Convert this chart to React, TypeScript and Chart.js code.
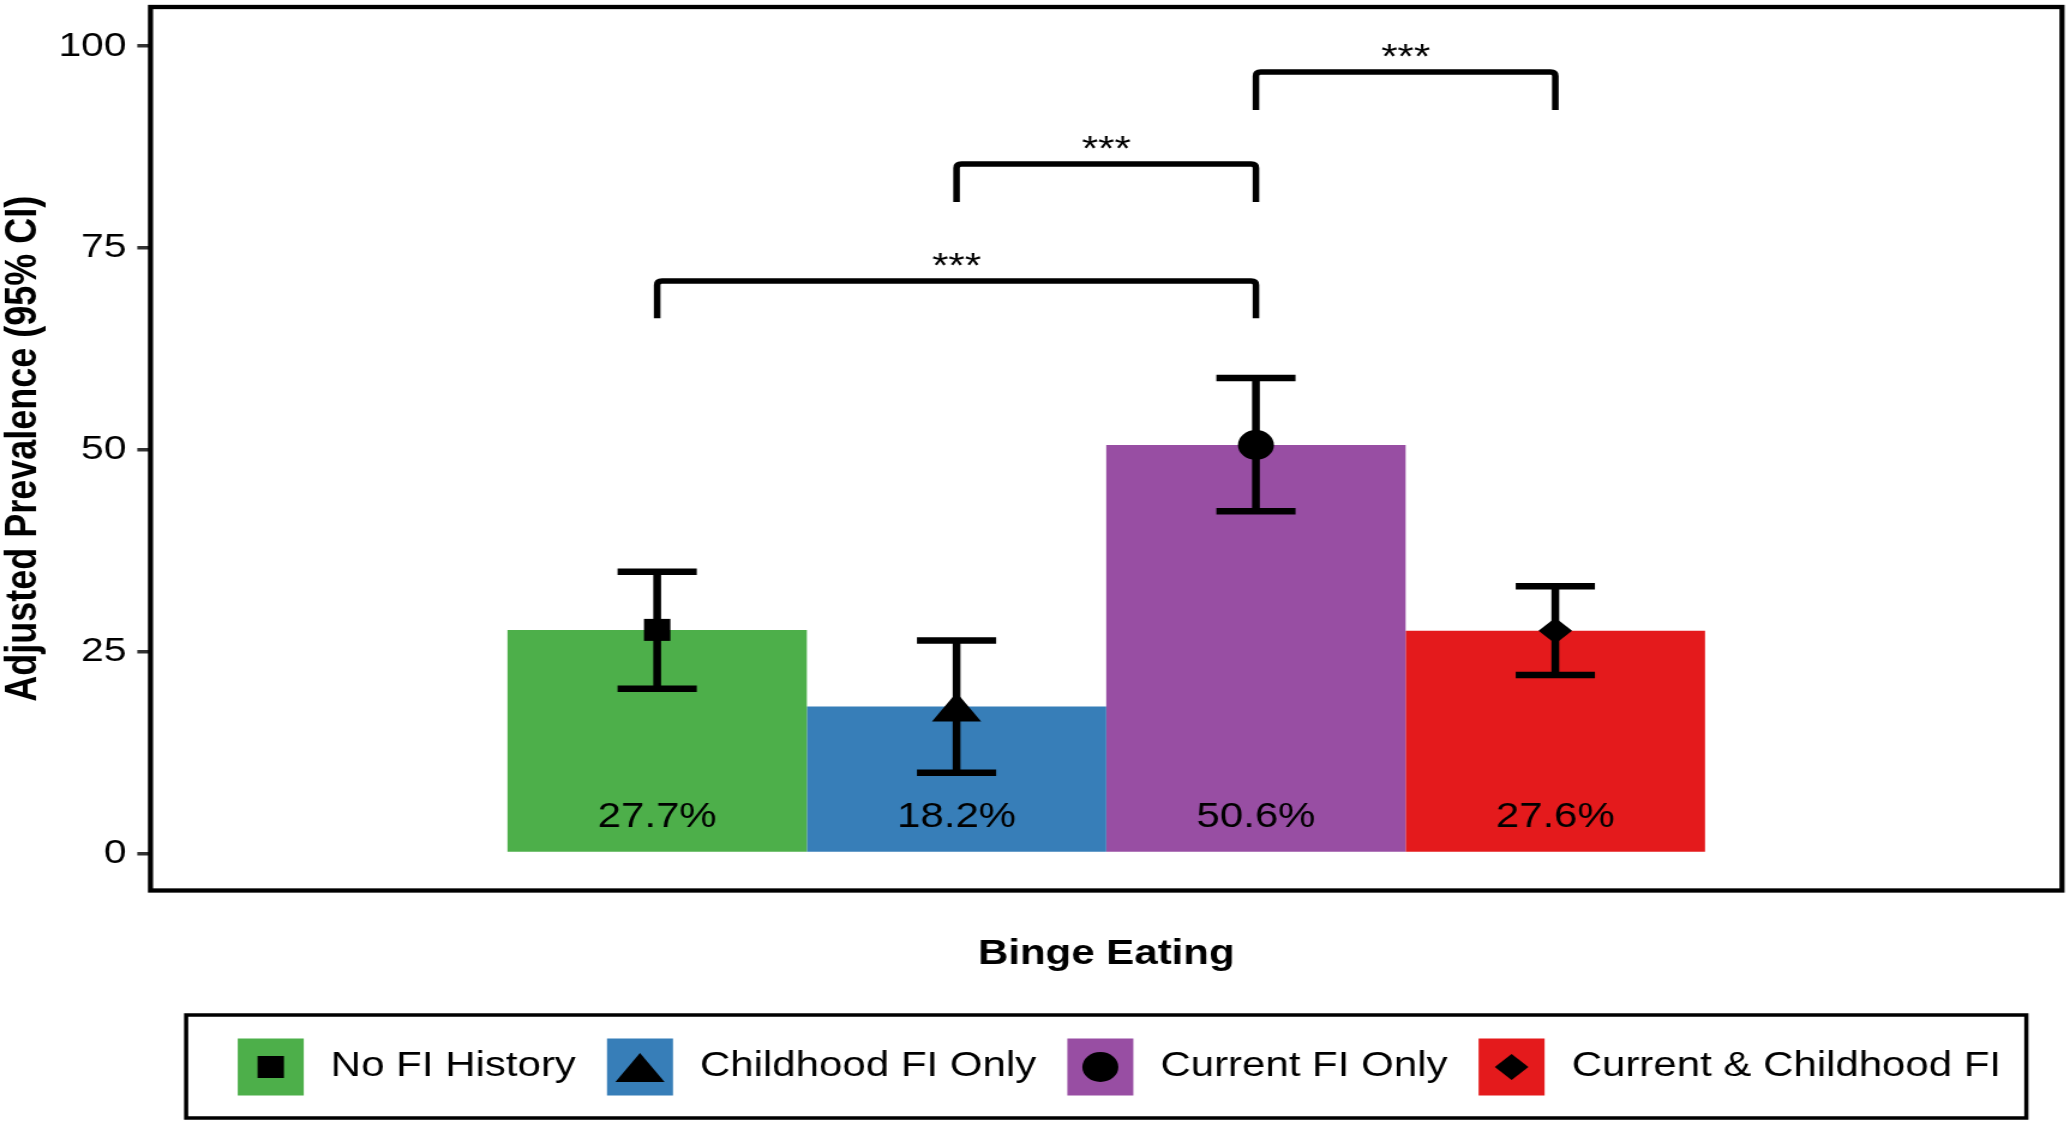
import React, { useEffect, useRef } from 'react';
import { Chart, registerables } from 'chart.js';

Chart.register(...registerables);

// ---------- data ----------
const X_CATEGORY = ['Binge Eating'];
const GROUPS = ['No FI History', 'Childhood FI Only', 'Current FI Only', 'Current & Childhood FI'];
const PREVALENCE = [27.7, 18.2, 50.6, 27.6];
const CI_LOWER = [20.4, 10.0, 42.4, 22.1];
const CI_UPPER = [34.9, 26.4, 58.9, 33.1];
const BAR_LABELS = ['27.7%', '18.2%', '50.6%', '27.6%'];
const BAR_LABEL_Y = 4.5;
const MARKERS = ['square', 'triangle', 'circle', 'diamond'];
const COLORS = ['#4DAF4A', '#377EB8', '#984EA3', '#E41A1C'];
const Y_TICKS = [0, 25, 50, 75, 100];
const Y_MIN = -4.58;
const Y_MAX = 104.85;
const Y_TITLE = 'Adjusted Prevalence (95% CI)';
const X_TITLE = 'Binge Eating';
const SIG_PAIRS = [[0, 2], [1, 2], [2, 3]];
const SIG_TOP = [70.9, 85.4, 96.8];
const SIG_TIP = [66.3, 80.7, 92.1];
const SIG_TEXT = ['***', '***', '***'];

// ---------- layout ----------
const W = 2070;
const H = 1125;
const STRETCH = 1.2;
const CW = Math.round(W / STRETCH);
const FONT = '"Liberation Sans", Arial, Helvetica, sans-serif';

function drawMarker(ctx: CanvasRenderingContext2D, kind: string, x: number, y: number) {
  ctx.fillStyle = '#000';
  ctx.beginPath();
  if (kind === 'square') {
    ctx.rect(x - 11, y - 11, 22, 22);
  } else if (kind === 'triangle') {
    ctx.moveTo(x, y - 14);
    ctx.lineTo(x + 20.5, y + 15);
    ctx.lineTo(x - 20.5, y + 15);
    ctx.closePath();
  } else if (kind === 'circle') {
    ctx.arc(x, y, 15, 0, Math.PI * 2);
  } else if (kind === 'diamond') {
    ctx.moveTo(x, y - 13);
    ctx.lineTo(x + 14, y);
    ctx.lineTo(x, y + 13);
    ctx.lineTo(x - 14, y);
    ctx.closePath();
  }
  ctx.fill();
}

const overlayPlugin = {
  id: 'overlay',
  afterDatasetsDraw(chart: any) {
    const ctx: CanvasRenderingContext2D = chart.ctx;
    const yS = chart.scales.y;
    const centers = chart.data.datasets.map((_: any, i: number) => chart.getDatasetMeta(i).data[0].x);
    ctx.save();
    // bar value labels
    ctx.fillStyle = '#000';
    ctx.font = `35px ${FONT}`;
    ctx.textAlign = 'center';
    ctx.textBaseline = 'middle';
    BAR_LABELS.forEach((t, i) => ctx.fillText(t, centers[i], yS.getPixelForValue(BAR_LABEL_Y)));
    // error bars
    ctx.strokeStyle = '#000';
    ctx.lineWidth = 6.5;
    ctx.lineCap = 'butt';
    const cap = 33;
    centers.forEach((x: number, i: number) => {
      const yl = yS.getPixelForValue(CI_LOWER[i]);
      const yu = yS.getPixelForValue(CI_UPPER[i]);
      ctx.beginPath();
      ctx.moveTo(x, yl);
      ctx.lineTo(x, yu);
      ctx.moveTo(x - cap, yl);
      ctx.lineTo(x + cap, yl);
      ctx.moveTo(x - cap, yu);
      ctx.lineTo(x + cap, yu);
      ctx.stroke();
    });
    centers.forEach((x: number, i: number) => drawMarker(ctx, MARKERS[i], x, yS.getPixelForValue(PREVALENCE[i])));
    // significance brackets
    ctx.lineWidth = 5.5;
    ctx.lineJoin = 'round';
    ctx.lineCap = 'butt';
    SIG_PAIRS.forEach((p, k) => {
      const a = centers[p[0]];
      const b = centers[p[1]];
      const yt = yS.getPixelForValue(SIG_TOP[k]);
      const yb = yS.getPixelForValue(SIG_TIP[k]);
      ctx.beginPath();
      ctx.moveTo(a, yb);
      ctx.lineTo(a, yt + 4);
      ctx.quadraticCurveTo(a, yt, a + 4, yt);
      ctx.lineTo(b - 4, yt);
      ctx.quadraticCurveTo(b, yt, b, yt + 4);
      ctx.lineTo(b, yb);
      ctx.stroke();
      ctx.font = `35px ${FONT}`;
      ctx.textAlign = 'center';
      ctx.textBaseline = 'alphabetic';
      ctx.fillText(SIG_TEXT[k], (a + b) / 2, yt - 4);
    });
    ctx.restore();
  },
  afterDraw(chart: any) {
    const ctx: CanvasRenderingContext2D = chart.ctx;
    const ca = chart.chartArea;
    ctx.save();
    // panel border
    ctx.strokeStyle = '#000';
    ctx.lineWidth = 4.3;
    ctx.strokeRect(ca.left, ca.top, ca.right - ca.left, ca.bottom - ca.top);
    // legend
    ctx.font = `35px ${FONT}`;
    const tw = GROUPS.map((t) => ctx.measureText(t).width);
    const KEY_W = 55, KEY_H = 57, K2T = 22.5, GAP = 26, PADL = 43, PADR = 21;
    const content = tw.reduce((s, v) => s + v, 0) + GROUPS.length * (KEY_W + K2T) + (GROUPS.length - 1) * GAP;
    const boxW = content + PADL + PADR;
    const cx = (ca.left + ca.right) / 2;
    const boxL = cx - boxW / 2;
    const boxTop = 1015, boxBot = 1118, cy = 1067;
    ctx.lineWidth = 3.5;
    ctx.strokeRect(boxL, boxTop, boxW, boxBot - boxTop);
    let x = boxL + PADL;
    GROUPS.forEach((g, i) => {
      ctx.fillStyle = COLORS[i];
      ctx.fillRect(x, cy - KEY_H / 2, KEY_W, KEY_H);
      drawMarker(ctx, MARKERS[i], x + KEY_W / 2, cy);
      x += KEY_W + K2T;
      ctx.fillStyle = '#000';
      ctx.textAlign = 'left';
      ctx.textBaseline = 'middle';
      ctx.fillText(g, x, cy - 1);
      x += tw[i] + GAP;
    });
    ctx.restore();
  },
};

export default function App() {
  const ref = useRef<HTMLCanvasElement>(null);
  useEffect(() => {
    document.body.style.margin = '0';
    const chart = new Chart(ref.current as HTMLCanvasElement, {
      type: 'bar',
      data: {
        labels: X_CATEGORY,
        datasets: GROUPS.map((g, i) => ({
          label: g,
          data: [PREVALENCE[i]],
          backgroundColor: COLORS[i],
          borderWidth: 0,
          categoryPercentage: 0.6265,
          barPercentage: 1,
        })),
      },
      options: {
        responsive: false,
        animation: false,
        devicePixelRatio: 1,
        layout: { padding: { left: 0, top: 7, right: 6.7, bottom: 150 } },
        plugins: { legend: { display: false }, tooltip: { enabled: false } },
        scales: {
          x: {
            type: 'category',
            offset: true,
            grid: { display: false },
            border: { display: false },
            ticks: { display: false },
            title: {
              display: true,
              text: X_TITLE,
              color: '#000',
              font: { family: FONT, size: 35, weight: 'bold', lineHeight: 1.2 },
              padding: { top: 0, bottom: 0 },
            },
            afterFit: (s: any) => {
              s.height = 84.5;
              s.paddingLeft = 0;
              s.paddingRight = 0;
            },
          },
          y: {
            type: 'linear',
            min: Y_MIN,
            max: Y_MAX,
            afterBuildTicks: (s: any) => {
              s.ticks = Y_TICKS.map((v) => ({ value: v }));
            },
            grid: { drawOnChartArea: false, drawTicks: true, tickLength: 11, color: '#333333', lineWidth: 3.5 },
            border: { display: false },
            ticks: { color: '#000', font: { family: FONT, size: 34 }, padding: 9 },
            title: {
              display: true,
              text: Y_TITLE,
              color: '#000',
              font: { family: FONT, size: 36, weight: 'bold', lineHeight: 1.13 },
              padding: { top: 0, bottom: 0 },
            },
            afterFit: (s: any) => {
              s.width = 125.4;
              s.paddingTop = 0;
              s.paddingBottom = 0;
            },
          },
        },
      } as any,
      plugins: [overlayPlugin],
    });
    return () => chart.destroy();
  }, []);
  return (
    <div style={{ position: 'absolute', left: 0, top: 0, width: W, height: H, background: '#fff', overflow: 'hidden' }}>
      <canvas ref={ref} width={CW} height={H} style={{ width: W + 'px', height: H + 'px', display: 'block' }} />
    </div>
  );
}
